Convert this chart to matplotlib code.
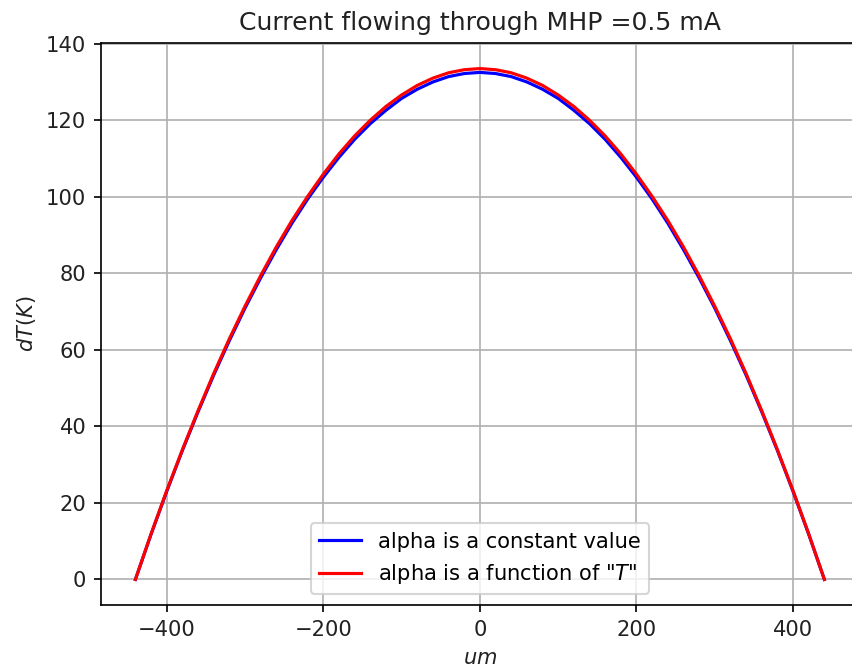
import matplotlib
matplotlib.use("Agg")
from matplotlib import pyplot as plt

# position along the heater (um)
um = [-440, -420, -400, -380, -360, -340, -320, -300, -280, -260, -240, -220, -200,
      -180, -160, -140, -120, -100, -80, -60, -40, -20, 0,
      20, 40, 60, 80, 100, 120, 140, 160, 180, 200, 220, 240, 260, 280,
      300, 320, 340, 360, 380, 400, 420, 440]

# temperature rise, alpha constant
dT_const = [0.0, 11.8, 23.0, 33.7, 43.8, 53.4, 62.4, 70.9, 78.8, 86.2, 93.1, 99.4, 105.1,
            110.3, 115.0, 119.1, 122.6, 125.7, 128.1, 130.0, 131.4, 132.2, 132.5,
            132.2, 131.4, 130.0, 128.1, 125.7, 122.6, 119.1, 115.0, 110.3, 105.1, 99.4, 93.1, 86.2, 78.8,
            70.9, 62.4, 53.4, 43.8, 33.7, 23.0, 11.8, 0.0]

# temperature rise, alpha = f(T)
dT_func = [0.0, 11.9, 23.2, 33.9, 44.1, 53.8, 62.9, 71.4, 79.4, 86.9, 93.8, 100.1, 105.9,
           111.2, 115.9, 120.0, 123.6, 126.6, 129.1, 131.0, 132.4, 133.2, 133.5,
           133.2, 132.4, 131.0, 129.1, 126.6, 123.6, 120.0, 115.9, 111.2, 105.9, 100.1, 93.8, 86.9, 79.4,
           71.4, 62.9, 53.8, 44.1, 33.9, 23.2, 11.9, 0.0]

DPI = 151
fig = plt.figure(figsize=(852/DPI, 669/DPI), dpi=DPI)
ax = fig.add_axes([0.1185, 0.0957, 0.8895, 0.84])

ax.plot(um, dT_const, color="b", label="alpha is a constant value")
ax.plot(um, dT_func, color="r", label='alpha is a function of "$T$"')

ax.set_title("Current flowing through MHP =0.5 mA", color="#222222")
ax.set_xlabel("$um$", color="#222222")
ax.set_ylabel("$dT(K)$", color="#222222")
ax.tick_params(labelcolor="#222222")
ax.grid(True)
ax.legend(loc="lower center")

fig.savefig("out.png", dpi=DPI)
